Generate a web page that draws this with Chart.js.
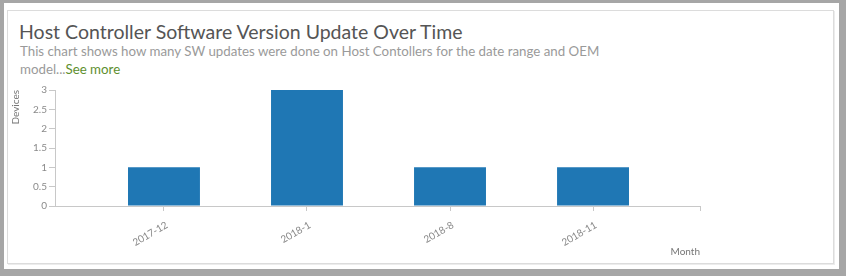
<!DOCTYPE html>
<html>
<head>
<meta charset="utf-8">
<script src="https://cdn.jsdelivr.net/npm/chart.js@4"></script>
<style>
  html, body { margin: 0; padding: 0; background: #fff; }
  #frame {
    position: absolute; left: 0; top: 0; width: 846px; height: 276px;
    box-sizing: border-box; background: #fff;
    border-style: solid; border-color: #a6a6a6;
    border-width: 3px 7px 7px 4px;
  }
  #card {
    position: absolute; left: 7px; top: 10px; width: 827px; height: 254px;
    box-sizing: border-box; border: 1px solid #dcdcdc;
    box-shadow: 1px 1px 0 #ececec;
  }
  #title {
    position: absolute; left: 19px; top: 20px;
    font: 19.5px/24px Lato, sans-serif; color: #555; white-space: nowrap;
  }
  #sub {
    position: absolute; left: 20px; top: 42px; width: 610px;
    font: 13.3px/18px Lato, sans-serif; color: #9a9a9a;
  }
  #sub span { color: #5e8f2e; }
  #wrap { position: absolute; left: 0; top: 0; width: 846px; height: 276px; }
</style>
</head>
<body>
<div id="frame"></div>
<div id="card"></div>
<div id="title">Host Controller Software Version Update Over Time</div>
<div id="sub">This chart shows how many SW updates were done on Host Contollers for the date range and OEM model...<span>See more</span></div>
<div id="wrap"><canvas id="c"></canvas></div>
<script>
// chart values
const months = ['2017-12', '2018-1', '2018-8', '2018-11'];
const devices = [1, 3, 1, 1];
const yTicks = [0, 0.5, 1, 1.5, 2, 2.5, 3];

(function(){
  const axisGrey = '#c8c8c8';
  const labelGrey = '#8a8a8a';
  const xMin = -0.762, xMax = 3.748;
  // bar sizing uses the smallest tick gap, which is the closing tick at xMax
  const barFrac = 0.503 / (xMax - (months.length - 1));

  const ctx = document.getElementById('c').getContext('2d');
  new Chart(ctx, {
    type: 'bar',
    data: {
      datasets: [{
        label: 'Devices',
        data: months.map((m, i) => ({ x: i, y: devices[i] })),
        backgroundColor: '#1f77b4',
        borderWidth: 0,
        categoryPercentage: 1,
        barPercentage: barFrac
      }]
    },
    options: {
      responsive: true,
      maintainAspectRatio: false,
      animation: false,
      layout: { padding: { left: 10, top: 90, right: 146, bottom: 18 } },
      plugins: { legend: { display: false }, tooltip: { enabled: false } },
      scales: {
        x: {
          type: 'linear',
          offset: false,
          min: xMin,
          max: xMax,
          afterBuildTicks: function(scale) {
            // one tick per month plus the closing tick at the end of the axis
            scale.ticks = months.map((m, i) => ({ value: i })).concat([{ value: scale.max }]);
          },
          afterFit: function(scale) { scale.height = 52; },
          grid: { display: true, offset: false, drawOnChartArea: false, drawTicks: true, tickLength: 5, color: axisGrey },
          border: { display: true, color: axisGrey },
          ticks: {
            autoSkip: false,
            minRotation: 30,
            maxRotation: 30,
            padding: 8,
            labelOffset: 3,
            color: labelGrey,
            font: { family: 'Lato', size: 10 },
            callback: function(value) {
              return Number.isInteger(value) && months[value] !== undefined ? months[value] : '';
            }
          },
          title: {
            display: true, text: 'Month', align: 'end', padding: 0,
            color: '#777', font: { family: 'Lato', size: 10 }
          }
        },
        y: {
          min: yTicks[0],
          max: yTicks[yTicks.length - 1],
          afterBuildTicks: function(scale) {
            scale.ticks = yTicks.map(v => ({ value: v }));
          },
          afterFit: function(scale) { scale.width = 45; },
          grid: { display: true, drawOnChartArea: false, drawTicks: true, tickLength: 6, color: axisGrey },
          border: { display: true, color: axisGrey },
          ticks: {
            padding: 2,
            color: labelGrey,
            font: { family: 'Lato', size: 10 },
            callback: function(value) { return String(value); }
          },
          title: {
            display: true, text: 'Devices', align: 'end', padding: 0,
            color: '#777', font: { family: 'Lato', size: 10 }
          }
        }
      }
    }
  });
})();
</script>
</body>
</html>
